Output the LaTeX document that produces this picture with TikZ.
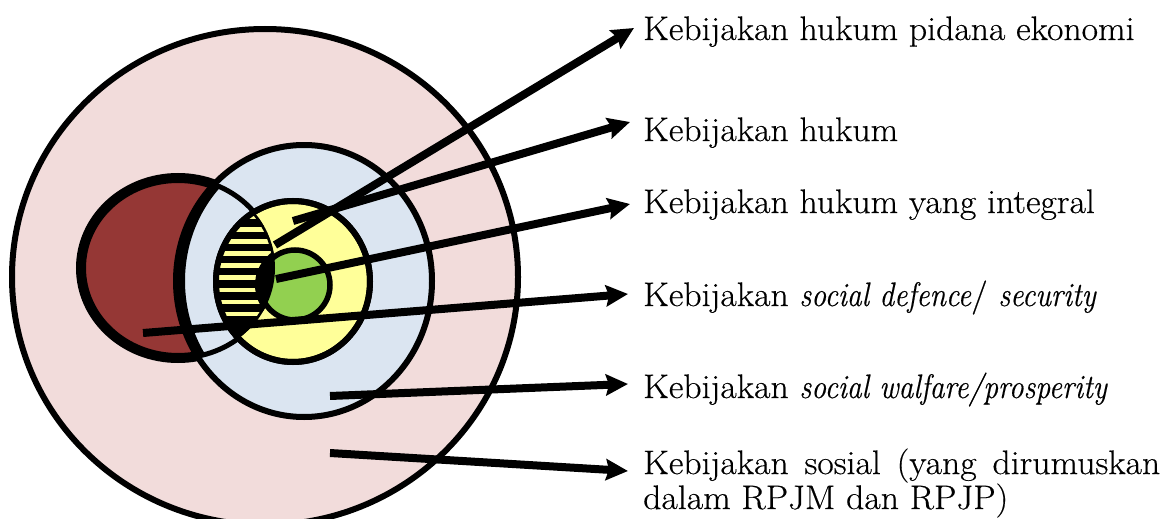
\documentclass[tikz,border=0pt]{standalone}
\usepackage{fontspec}
\setmainfont{Latin Modern Roman}[FakeStretch=1.05,FakeBold=0.4,ItalicFeatures={FakeStretch=0.87}]
\usetikzlibrary{arrows.meta}
\definecolor{pinkbg}{HTML}{F2DCDB}
\definecolor{bluebg}{HTML}{DBE5F1}
\definecolor{redbg}{HTML}{953735}
\definecolor{yellowbg}{HTML}{FFFF99}
\definecolor{greenbg}{HTML}{92D050}
\begin{document}
\begin{tikzpicture}[x=1pt,y=-1pt,
  outl/.style={draw=black,line width=6pt},
  ptr/.style={line width=8pt,-{Stealth[length=22pt,width=21pt,inset=3pt]}},
  lab/.style={anchor=base west,inner sep=0pt,align=left,font=\fontsize{34}{29.5}\selectfont}]
\useasboundingbox (0,0) rectangle (1168,519);
\clip (0,0) rectangle (1168,519);
% outer social policy
\path[outl,fill=pinkbg] (265,277) ellipse (253 and 248);
% red (economic criminal law)
\path[draw=black,line width=10pt,fill=redbg] (178,268) ellipse (97 and 90);
% blue
\path[outl,fill=bluebg] (304,281) ellipse (128 and 136);
\begin{scope}
  \clip (178,268) ellipse (97 and 90);
  \fill[black,even odd rule] (304,281) ellipse (128 and 136) (313,281) ellipse (128 and 136);
\end{scope}
\draw[line width=5pt] (178,268) ellipse (97 and 90);
% yellow
\path[outl,fill=yellowbg] (293,281.5) ellipse (77 and 80.5);
\begin{scope}
  \clip (178,268) ellipse (97 and 90);
  \clip (293,281.5) ellipse (77 and 80.5);
  \fill[black] (170,180) rectangle (300,380);
  \foreach \k in {-1,...,10}
    \draw[yellowbg,line width=4.5pt] (170,{229.3+12.1*\k}) -- (300,{229.3+12.1*\k});
  \draw[line width=5pt] (178,268) ellipse (97 and 90);
\end{scope}
\draw[line width=6pt] (293,281.5) ellipse (77 and 80.5);
% green
\path[draw=black,line width=5.5pt,fill=greenbg] (295,285) circle (35);
\begin{scope}
  \clip (178,268) ellipse (97 and 90);
  \fill[black] (295,285) circle (40);
\end{scope}
% arrows
\coordinate (s1) at (275,245);  \coordinate (e1) at (634,28);
\coordinate (s2) at (293,221);  \coordinate (e2) at (630,122);
\coordinate (s3) at (276,279);  \coordinate (e3) at (630,204);
\coordinate (s4) at (143,333);  \coordinate (e4) at (628,294);
\coordinate (s5) at (330,396);  \coordinate (e5) at (628,384);
\coordinate (s6) at (330,453);  \coordinate (e6) at (628,471);
\foreach \i in {1,...,6} \draw[ptr] (s\i) -- (e\i);
% labels
\node[lab] (t1) at (643,40) {Kebijakan hukum pidana ekonomi};
\node[lab] (t2) at (643,141) {Kebijakan hukum};
\node[lab] (t3) at (643,213) {Kebijakan hukum yang integral};
\node[lab] (t4) at (643,306) {Kebijakan \textit{social defence}/ \textit{security}};
\node[lab] (t5) at (643,398) {Kebijakan \textit{social walfare/prosperity}};
\node[lab] (t6) at (643,509) {\makebox[517pt][s]{Kebijakan sosial (yang dirumuskan}\\dalam RPJM dan RPJP)};
\end{tikzpicture}
\end{document}
